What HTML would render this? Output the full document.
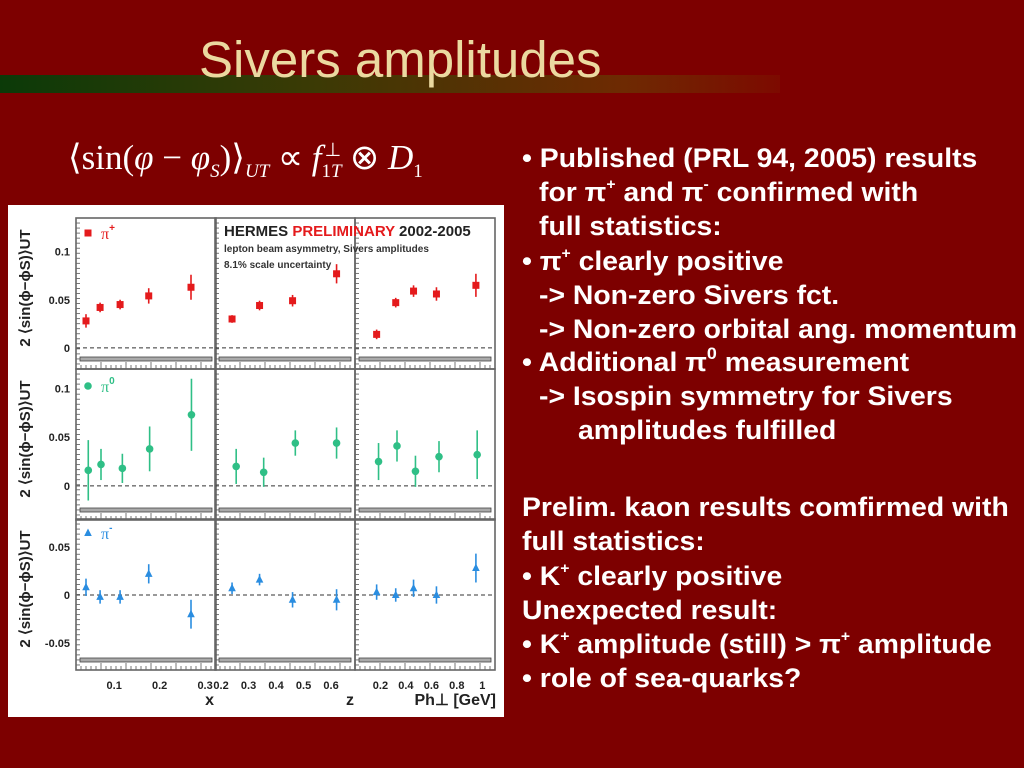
<!DOCTYPE html>
<html><head><meta charset="utf-8">
<style>
body{margin:0;width:1024px;height:768px;background:#7d0000;overflow:hidden;position:relative;font-family:"Liberation Sans",sans-serif}
.t{position:absolute;color:#fff;font-weight:bold;font-size:27px;white-space:nowrap;line-height:28px;transform:scaleX(1.05);transform-origin:0 50%}
.t sup{line-height:0;font-size:15px;position:relative;top:-2px}
#title{position:absolute;left:199px;top:30px;font-size:51px;color:#ebd9a0;line-height:60px}
#stripe{position:absolute;left:0;top:75px;width:780px;height:18px;background:linear-gradient(90deg,#0b3a08,#3b3a05 40%,#6e2a02 80%,#7d0a00)}
#formula{position:absolute;left:68px;top:136px;color:#fff;font-family:"Liberation Serif",serif;font-size:35px;white-space:nowrap;line-height:44px}
#formula sub,#formula sup{line-height:0}
#chart{position:absolute;left:8px;top:205px}
</style></head><body>
<div id="stripe"></div>
<div id="title">Sivers amplitudes</div>
<div id="formula">⟨sin(<i>φ</i> − <i>φ</i><sub style="font-size:19px"><i>S</i></sub>)⟩<sub style="font-size:19px"><i>UT</i></sub> ∝ <i>f</i><sub style="font-size:19px">1<i>T</i></sub><sup style="font-size:19px;margin-left:-17px">⊥</sup> ⊗ <i>D</i><sub style="font-size:19px">1</sub></div>

<div class="t" style="left:522px;top:144px">• Published (PRL 94, 2005) results</div>
<div class="t" style="left:539px;top:178px">for π<sup>+</sup> and π<sup>-</sup> confirmed with</div>
<div class="t" style="left:539px;top:212px">full statistics:</div>
<div class="t" style="left:522px;top:247px">• π<sup>+</sup> clearly positive</div>
<div class="t" style="left:539px;top:281px">-&gt; Non-zero Sivers fct.</div>
<div class="t" style="left:539px;top:315px">-&gt; Non-zero orbital ang. momentum</div>
<div class="t" style="left:522px;top:348px">• Additional π<sup style="font-size:17px">0</sup> measurement</div>
<div class="t" style="left:539px;top:382px">-&gt; Isospin symmetry for Sivers</div>
<div class="t" style="left:578px;top:416px">amplitudes fulfilled</div>
<div class="t" style="left:522px;top:493px">Prelim. kaon results comfirmed with</div>
<div class="t" style="left:522px;top:527px">full statistics:</div>
<div class="t" style="left:522px;top:562px">• K<sup>+</sup> clearly positive</div>
<div class="t" style="left:522px;top:596px">Unexpected result:</div>
<div class="t" style="left:522px;top:630px">• K<sup>+</sup> amplitude (still) &gt; π<sup>+</sup> amplitude</div>
<div class="t" style="left:522px;top:664px">• role of sea-quarks?</div>

<svg id="chart" width="496" height="512" viewBox="0 0 496 512" font-family="Liberation Sans, sans-serif"></svg>

<script>
// x-coordinates per column (x, z, Ph)
const xVals = [0.038, 0.069, 0.113, 0.176, 0.269];
const zVals = [0.24, 0.34, 0.46, 0.62];
const pVals = [0.17, 0.32, 0.46, 0.64, 0.95];
const xVals0 = [0.043, 0.071, 0.118, 0.178, 0.27];
const zVals0 = [0.255, 0.355, 0.47, 0.62];
const pVals0 = [0.185, 0.33, 0.475, 0.66, 0.96];
// pi+ values & errors
const pipX = [0.028, 0.042, 0.045, 0.054, 0.063];
const pipXe = [0.007, 0.005, 0.005, 0.008, 0.013];
const pipZ = [0.030, 0.044, 0.049, 0.077];
const pipZe = [0.004, 0.005, 0.006, 0.010];
const pipP = [0.014, 0.047, 0.059, 0.056, 0.065];
const pipPe = [0.005, 0.005, 0.006, 0.007, 0.012];
// pi0
const pi0X = [0.016, 0.022, 0.018, 0.038, 0.073];
const pi0Xe = [0.031, 0.016, 0.015, 0.023, 0.037];
const pi0Z = [0.020, 0.014, 0.044, 0.044];
const pi0Ze = [0.018, 0.015, 0.013, 0.016];
const pi0P = [0.025, 0.041, 0.015, 0.030, 0.032];
const pi0Pe = [0.019, 0.016, 0.016, 0.016, 0.025];
// pi-
const pimX = [0.008, -0.002, -0.002, 0.022, -0.020];
const pimXe = [0.009, 0.007, 0.007, 0.010, 0.015];
const pimZ = [0.007, 0.016, -0.005, -0.005];
const pimZe = [0.006, 0.006, 0.008, 0.011];
const pimP = [0.003, 0.000, 0.007, 0.000, 0.028];
const pimPe = [0.008, 0.007, 0.009, 0.009, 0.015];
// tick labels
const yTicksTop = [0, 0.05, 0.1];
const yTicksMid = [0, 0.05, 0.1];
const yTicksBot = [-0.05, 0, 0.05];
const xTicksX = [0.1, 0.2, 0.3];
const xTicksZ = [0.2, 0.3, 0.4, 0.5, 0.6];
const xTicksP = [0.2, 0.4, 0.6, 0.8, 1];

const svg = document.getElementById('chart');
const NS = 'http://www.w3.org/2000/svg';
function mk(tag, attrs, parent){const e=document.createElementNS(NS,tag);for(const k in attrs)e.setAttribute(k,attrs[k]);(parent||svg).appendChild(e);return e;}

const colL = [68, 207, 347], colW = 140;
const rowT = [13, 164, 314], rowH = 151;
const xDom = [[0.016, 0.324], [0.178, 0.687], [0.0, 1.1]];
const yDom = [[-0.022, 0.135], [-0.035, 0.12], [-0.078, 0.079]];
function sx(c, v){return colL[c] + (v - xDom[c][0]) / (xDom[c][1] - xDom[c][0]) * colW;}
function sy(r, v){return rowT[r] + rowH - (v - yDom[r][0]) / (yDom[r][1] - yDom[r][0]) * rowH;}

const bg = mk('rect', {x:0, y:0, width:496, height:512, fill:'#fff'});



const colors = ['#e41a1c', '#2fbf86', '#2a8de0'];
const shapes = ['square', 'circle', 'triangle'];
const data = [
 [[xVals, pipX, pipXe], [zVals, pipZ, pipZe], [pVals, pipP, pipPe]],
 [[xVals0, pi0X, pi0Xe], [zVals0, pi0Z, pi0Ze], [pVals0, pi0P, pi0Pe]],
 [[xVals, pimX, pimXe], [zVals, pimZ, pimZe], [pVals, pimP, pimPe]]
];
const yTicks = [yTicksTop, yTicksMid, yTicksBot];
const xTicks = [xTicksX, xTicksZ, xTicksP];

for (let r = 0; r < 3; r++) {
  for (let c = 0; c < 3; c++) {
    const x0 = colL[c], y0 = rowT[r], y1 = y0 + rowH, x1 = x0 + colW;
    const band = mk('rect', {x:x0+4, y:y1-12, width:colW-8, height:4, fill:'#aaa', stroke:'#444', 'stroke-width':0.8});
    
    
    const zl = mk('line', {x1:x0, x2:x1, y1:sy(r,0), y2:sy(r,0), stroke:'#333', 'stroke-dasharray':'4,3', 'stroke-width':1});
    
    
    for (let k = 1; k < 28; k++) {
      const tx = x0 + k * colW / 28;
      const tk = mk('line', {x1:tx, x2:tx, y1:y1, y2:y1 - (k % 5 === 0 ? 7 : 4), stroke:'#555', 'stroke-width':0.8});
      
      
    }
    for (let k = 1; k < 30; k++) {
      const ty = y0 + k * rowH / 30;
      const tk = mk('line', {x1:x0, x2:x0 + 4, y1:ty, y2:ty, stroke:'#555', 'stroke-width':0.8});
      
      
    }
    const [xs, ys, es] = data[r][c];
    for (let i = 0; i < ys.length; i++) {
      const px = sx(c, xs[i]), py = sy(r, ys[i]);
      const eb = mk('line', {x1:px, x2:px, y1:sy(r, ys[i] + es[i]), y2:sy(r, ys[i] - es[i]), stroke:colors[r], 'stroke-width':1.6});
      
      
      let m;
      if (shapes[r] === 'square') m = mk('rect', {x:px-3.5, y:py-3.5, width:7, height:7, fill:colors[r]});
      else if (shapes[r] === 'circle') m = mk('circle', {cx:px, cy:py, r:3.8, fill:colors[r]});
      else m = mk('polygon', {points:`${px},${py-4.5} ${px-3.8},${py+3} ${px+3.8},${py+3}`, fill:colors[r]});
      
      
    }
    const fr = mk('rect', {x:x0, y:y0, width:colW, height:rowH, fill:'none', stroke:'#666', 'stroke-width':1.6});
    
    
  }
  for (const v of yTicks[r]) {
    const t = mk('text', {x:62, y:sy(r, v) + 4, 'font-size':11, 'font-weight':'bold', fill:'#222', 'text-anchor':'end'});
    t.textContent = v === 0 ? '0' : String(v);
    
    
  }
  const yl = mk('text', {x:0, y:0, 'font-size':15, 'font-weight':'bold', fill:'#222', 'text-anchor':'middle', transform:`translate(22,${rowT[r] + 70}) rotate(-90)`});
  yl.textContent = '2 ⟨sin(ϕ−ϕS)⟩UT';
  
  
}
for (let c = 0; c < 3; c++) {
  for (const v of xTicks[c]) {
    const t = mk('text', {x:sx(c, v), y:484, 'font-size':11, 'font-weight':'bold', fill:'#222', 'text-anchor':'middle'});
    t.textContent = String(v);
    
    
  }
}
const xt = [['x', 206], ['z', 346], ['Ph⊥ [GeV]', 488]];
for (const [s, px] of xt) {
  const t = mk('text', {x:px, y:500, 'font-size':16, 'font-weight':'bold', fill:'#222', 'text-anchor':'end'});
  t.textContent = s;
  
  
}
const leg = [['+', 0, 28], ['0', 1, 181], ['-', 2, 328]];
for (const [s, r, y] of leg) {
  const lx = 80;
  let m;
  if (r === 0) m = mk('rect', {x:lx-3.5, y:y-3.5, width:7, height:7, fill:colors[0]});
  else if (r === 1) m = mk('circle', {cx:lx, cy:y, r:3.8, fill:colors[1]});
  else m = mk('polygon', {points:`${lx},${y-4.5} ${lx-3.8},${y+3} ${lx+3.8},${y+3}`, fill:colors[2]});
  
  
  const t = mk('text', {x:93, y:y+6, 'font-size':16, fill:colors[r], 'font-family':'Liberation Serif, serif'});
  t.innerHTML = 'π<tspan dy="-8" font-size="10" font-family="Liberation Sans, sans-serif" font-weight="bold">' + s + '</tspan>';
  
  
}
const h = mk('text', {x:216, y:31, 'font-size':15, 'font-weight':'bold', fill:'#222'});
h.innerHTML = 'HERMES <tspan fill="#e41a1c">PRELIMINARY</tspan> 2002-2005';


const h2 = mk('text', {x:216, y:47, 'font-size':10, 'font-weight':'bold', fill:'#333'});
h2.textContent = 'lepton beam asymmetry, Sivers amplitudes';


const h3 = mk('text', {x:216, y:63, 'font-size':10, 'font-weight':'bold', fill:'#333'});
h3.textContent = '8.1% scale uncertainty';


</script>
</body></html>
